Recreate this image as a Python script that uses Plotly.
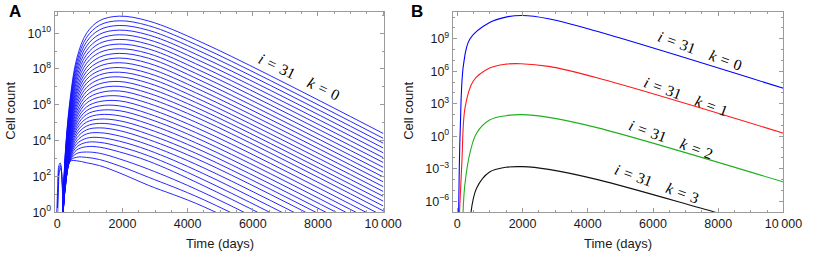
import plotly.graph_objects as go

# ---------------- Panel A: log10(cell count) ----------------
# common sampling days for the 32 curves (top curve is i = 31, bottom curve is i = 0)
a_days = [150, 250, 400, 600, 900, 1300, 1900, 2800, 4500, 10000]
a_log10_counts = [
    [-1, 3.40, 6.40, 8.60, 10.00, 10.70, 10.95, 10.68, 9.43, 4.40],
    [-1, 3.30, 6.24, 8.39, 9.76, 10.45, 10.69, 10.42, 9.16, 4.13],
    [-1, 3.21, 6.08, 8.18, 9.52, 10.19, 10.43, 10.16, 8.89, 3.86],
    [-1, 3.11, 5.92, 7.97, 9.28, 9.94, 10.17, 9.90, 8.62, 3.59],
    [-1, 3.02, 5.76, 7.77, 9.04, 9.68, 9.91, 9.64, 8.35, 3.32],
    [-1, 2.92, 5.59, 7.56, 8.80, 9.43, 9.65, 9.38, 8.08, 3.05],
    [-1, 2.82, 5.43, 7.35, 8.56, 9.17, 9.39, 9.12, 7.81, 2.78],
    [-1, 2.73, 5.27, 7.14, 8.32, 8.92, 9.13, 8.86, 7.54, 2.51],
    [-1, 2.63, 5.11, 6.93, 8.08, 8.66, 8.87, 8.60, 7.27, 2.24],
    [-1, 2.56, 4.99, 6.75, 7.86, 8.41, 8.61, 8.32, 7.00, 1.97],
    [-1, 2.49, 4.86, 6.57, 7.64, 8.16, 8.35, 8.04, 6.73, 1.70],
    [-1, 2.42, 4.74, 6.38, 7.42, 7.91, 8.08, 7.76, 6.46, 1.43],
    [-1, 2.36, 4.61, 6.20, 7.20, 7.67, 7.82, 7.49, 6.19, 1.16],
    [-1, 2.29, 4.49, 6.02, 6.97, 7.42, 7.56, 7.21, 5.92, 0.89],
    [-1, 2.22, 4.36, 5.84, 6.75, 7.17, 7.30, 6.93, 5.65, 0.62],
    [-1, 2.15, 4.24, 5.65, 6.53, 6.92, 7.03, 6.65, 5.38, 0.35],
    [-1, 2.08, 4.11, 5.47, 6.31, 6.67, 6.77, 6.37, 5.11, 0.08],
    [-1, 2.03, 4.01, 5.31, 6.10, 6.43, 6.49, 6.08, 4.82, -0.21],
    [-1, 1.97, 3.90, 5.14, 5.88, 6.18, 6.22, 5.79, 4.53, -0.50],
    [-1, 1.92, 3.80, 4.98, 5.67, 5.94, 5.94, 5.50, 4.24, -0.79],
    [-1, 1.86, 3.70, 4.81, 5.46, 5.69, 5.67, 5.22, 3.96, -1.08],
    [-1, 1.81, 3.59, 4.65, 5.24, 5.45, 5.39, 4.93, 3.67, -1.36],
    [-1, 1.75, 3.49, 4.48, 5.03, 5.20, 5.11, 4.64, 3.38, -1.65],
    [-1, 1.70, 3.38, 4.32, 4.81, 4.96, 4.84, 4.35, 3.09, -1.94],
    [-1, 1.64, 3.28, 4.15, 4.60, 4.71, 4.56, 4.06, 2.80, -2.23],
    [-1, 1.61, 3.20, 3.98, 4.37, 4.44, 4.26, 3.76, 2.47, -2.56],
    [-1, 1.57, 3.12, 3.82, 4.13, 4.17, 3.97, 3.46, 2.14, -2.90],
    [-1, 1.54, 3.04, 3.65, 3.90, 3.90, 3.67, 3.15, 1.80, -3.23],
    [-1, 1.50, 2.96, 3.48, 3.66, 3.63, 3.37, 2.85, 1.47, -3.56],
    [-1, 1.47, 2.92, 3.28, 3.36, 3.29, 2.98, 2.40, 1.08, -3.95],
    [-1, 1.43, 2.88, 3.07, 3.06, 2.94, 2.59, 1.95, 0.69, -4.34],
    [-1, 1.40, 2.84, 2.87, 2.76, 2.60, 2.20, 1.50, 0.30, -4.73],
]
# small early arches at the lower left of panel A
a_arch_days = [
    [-30, 10, 50, 90, 140, 190],
    [-20, 20, 60, 100, 150, 200],
    [-10, 30, 70, 110, 160, 210],
]
a_arch_log10 = [
    [-1.5, 1.3, 2.6, 2.75, 1.9, -1.0],
    [-1.5, 1.1, 2.45, 2.6, 1.7, -1.0],
    [-1.5, 0.9, 2.3, 2.45, 1.5, -1.0],
]

# ---------------- Panel B: i = 31, k = 0..3 ----------------
b_k0_days = [40, 90, 190, 390, 990, 1490, 1990, 2800, 4280, 10000]
b_k0_log10 = [-7.5, 0.6, 6.6, 9.0, 10.5, 11.0, 11.15, 10.85, 9.69, 4.43]
b_k1_days = [60, 140, 240, 490, 990, 1490, 1950, 2800, 4280, 10000]
b_k1_log10 = [-7.5, -2.4, 2.7, 5.1, 6.3, 6.66, 6.70, 6.45, 5.4, 0.29]
b_k2_days = [170, 230, 390, 590, 990, 1490, 1980, 2800, 4280, 10000]
b_k2_log10 = [-7.5, -4.5, -1.5, 0.29, 1.5, 1.9, 2.0, 1.75, 0.8, -4.22]
b_k3_days = [400, 590, 990, 1490, 1990, 2800, 4300, 7900, 10000]
b_k3_log10 = [-7.5, -4.8, -3.3, -2.86, -2.8, -3.05, -4.0, -7.0, -8.75]

x_tickvals = [0, 2000, 4000, 6000, 8000, 10000]
x_ticktext = ["0", "2000", "4000", "6000", "8000", "10\u2009000"]
a_y_exponents = [0, 2, 4, 6, 8, 10]
b_y_exponents = [-6, -3, 0, 3, 6, 9]

label_k = [0, 1, 2, 3]
label_colors = ["#0000ff", "#ff1a1a", "#1fb01f", "#111111"]

fig = go.Figure()

for row in a_log10_counts:
    fig.add_trace(go.Scatter(x=a_days, y=[10 ** v for v in row], mode="lines",
                             line=dict(color="#1010ff", width=0.9, shape="spline", smoothing=1.0),
                             xaxis="x", yaxis="y", hoverinfo="skip"))
for d, v in zip(a_arch_days, a_arch_log10):
    fig.add_trace(go.Scatter(x=d, y=[10 ** u for u in v], mode="lines",
                             line=dict(color="#1010ff", width=0.9, shape="spline", smoothing=1.0),
                             xaxis="x", yaxis="y", hoverinfo="skip"))

b_days = [b_k0_days, b_k1_days, b_k2_days, b_k3_days]
b_vals = [b_k0_log10, b_k1_log10, b_k2_log10, b_k3_log10]
for d, v, c in zip(b_days, b_vals, label_colors):
    fig.add_trace(go.Scatter(x=d, y=[10 ** u for u in v], mode="lines",
                             line=dict(color=c, width=1.1, shape="spline", smoothing=1.0),
                             xaxis="x2", yaxis="y2", hoverinfo="skip"))

frame = "#9a9a9a"
tickfont = dict(family="Liberation Sans, Arial, sans-serif", size=12.5, color="#1a1a1a")


def xaxis_style(domain, rng, anchor):
    return dict(domain=domain, range=rng, anchor=anchor, showgrid=False, zeroline=False,
                showline=True, linecolor=frame, linewidth=1, mirror="allticks",
                ticks="inside", ticklen=4, tickcolor=frame, tickwidth=1,
                tickmode="array", tickvals=x_tickvals, ticktext=x_ticktext,
                minor=dict(ticks="inside", ticklen=2.5, dtick=500, tick0=0, tickcolor=frame),
                tickfont=tickfont)


def sup(e):
    s = str(e).replace("-", "\u2212")
    return "10<sup>" + s + "</sup>"


def yaxis_style(domain, rng, anchor, exps):
    return dict(domain=domain, range=rng, anchor=anchor, type="log", showgrid=False,
                zeroline=False, showline=True, linecolor=frame, linewidth=1, mirror="allticks",
                ticks="inside", ticklen=4, tickcolor=frame, tickwidth=1,
                tickmode="array", tickvals=[10.0 ** e for e in exps],
                ticktext=[sup(e) for e in exps],
                minor=dict(ticks="inside", ticklen=2, dtick=1, tickcolor=frame),
                tickfont=tickfont)


ydom = [44 / 262, 250 / 262]
fig.update_layout(
    width=822, height=262, margin=dict(l=0, r=0, t=0, b=0),
    paper_bgcolor="white", plot_bgcolor="white", showlegend=False,
    xaxis=xaxis_style([55 / 822, 393 / 822], [-80, 10040], "y"),
    yaxis=yaxis_style(ydom, [0, 11.2], "x", a_y_exponents),
    xaxis2=xaxis_style([463 / 822, 802 / 822], [-140, 10000], "y2"),
    yaxis2=yaxis_style(ydom, [-7, 11.5], "x2", b_y_exponents),
)

title_font = dict(family="Liberation Sans, Arial, sans-serif", size=13, color="#1a1a1a")
ann = []
# axis titles
ann.append(dict(text="Time (days)", x=224 / 822, y=1 - 250 / 262, xref="paper", yref="paper",
                showarrow=False, font=title_font, xanchor="center", yanchor="middle"))
ann.append(dict(text="Time (days)", x=632 / 822, y=1 - 250 / 262, xref="paper", yref="paper",
                showarrow=False, font=title_font, xanchor="center", yanchor="middle"))
ann.append(dict(text="Cell count", x=10 / 822, y=1 - 114 / 262, xref="paper", yref="paper",
                showarrow=False, font=title_font, textangle=-90, xanchor="center", yanchor="middle"))
ann.append(dict(text="Cell count", x=418 / 822, y=1 - 114 / 262, xref="paper", yref="paper",
                showarrow=False, font=title_font, textangle=-90, xanchor="center", yanchor="middle"))
# panel letters
letter_font = dict(family="Liberation Sans, Arial, sans-serif", size=17, color="black")
ann.append(dict(text="<b>A</b>", x=14 / 822, y=1 - 12 / 262, xref="paper", yref="paper",
                showarrow=False, font=letter_font, xanchor="center", yanchor="middle"))
ann.append(dict(text="<b>B</b>", x=426 / 822, y=1 - 12 / 262, xref="paper", yref="paper",
                showarrow=False, font=letter_font, xanchor="center", yanchor="middle"))

lab_font = dict(family="Liberation Serif, Times New Roman, serif", size=15.5, color="black")
sp = "\u2004"
gap = "\u2003"


def label(k):
    return "<i>i</i>" + sp + "=" + sp + "31" + gap + "<i>k</i>" + sp + "=" + sp + str(k)


# curve labels (data coordinates; log axes take log10 positions)
ann.append(dict(text=label(0), x=7405, y=7.56, xref="x", yref="y", showarrow=False,
                font=lab_font, textangle=26, xanchor="center", yanchor="middle"))
b_label_days = [7427, 7015, 6566, 6117]
b_label_log10 = [7.91, 3.69, -0.26, -4.31]
for k, xd, yl in zip(label_k, b_label_days, b_label_log10):
    ann.append(dict(text=label(k), x=xd, y=yl, xref="x2", yref="y2", showarrow=False,
                    font=lab_font, textangle=20, xanchor="center", yanchor="middle"))

fig.update_layout(annotations=ann)
fig.write_html(
    "out.html",
    config={"displayModeBar": False},
    post_script="document.documentElement.style.overflow='hidden';"
                "document.body.style.margin='0';document.body.style.overflow='hidden';",
)
